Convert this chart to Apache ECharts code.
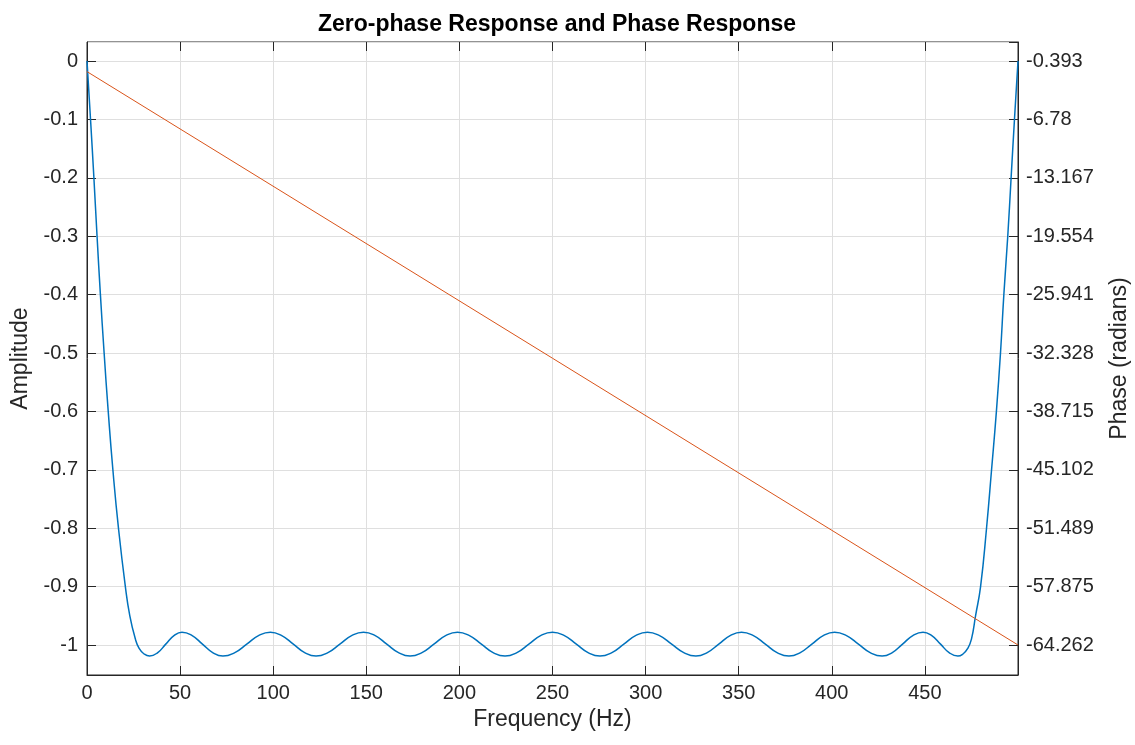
<!DOCTYPE html>
<html>
<head>
<meta charset="UTF-8">
<title>Zero-phase Response and Phase Response</title>
<script src="https://cdn.jsdelivr.net/npm/echarts@6/dist/echarts.min.js"></script>
<style>
html,body{margin:0;padding:0;background:#fff;}
#chart{width:1135px;height:745px;}
</style>
</head>
<body>
<div id="chart"></div>
<script type="text/javascript">
// amplitude (zero-phase response)
var ampFreq = [0, 1.9, 3.7, 5.4, 7.2, 9.2, 11.4, 13.9, 16.9, 20.6, 23.0, 26.0, 28.0, 30.5, 33.6,
  38, 42.3, 46.7, 51, 56.5, 62, 67.5, 73, 79.4, 85.8, 92.1, 98.5, 104.6, 110.8, 116.9, 123,
  129.4, 135.8, 142.1, 148.5, 154.8, 161, 167.3, 173.5, 179.9, 186.3, 192.6, 199,
  205.4, 211.8, 218.1, 224.5, 230.9, 237.3, 243.6, 250, 256.4, 262.8, 269.1, 275.5,
  281.9, 288.3, 294.6, 301, 307.5, 314, 320.5, 327, 333.1, 339.3, 345.4, 351.5,
  357.9, 364.3, 370.6, 377, 383.1, 389.3, 395.4, 401.5, 407.9, 414.3, 420.6, 427,
  432.5, 438, 443.5, 449, 453.7, 458.4, 463, 467.7,
  470.6, 473.0, 475.0, 477.2, 479.9, 483.1, 485.8, 488.4, 490.6, 492.4, 494.5, 496.3, 498.1, 500];
var ampValues = [0, -0.1, -0.2, -0.3, -0.4, -0.5, -0.6, -0.7, -0.8, -0.9, -0.95, -0.99, -1.006, -1.015, -1.019,
  -1.013, -0.9985, -0.984, -0.978, -0.984, -0.9985, -1.013, -1.019, -1.013, -0.9985, -0.984, -0.978, -0.984, -0.9985, -1.013, -1.019,
  -1.013, -0.9985, -0.984, -0.978, -0.984, -0.9985, -1.013, -1.019, -1.013, -0.9985, -0.984, -0.978,
  -0.984, -0.9985, -1.013, -1.019, -1.013, -0.9985, -0.984, -0.978, -0.984, -0.9985, -1.013, -1.019,
  -1.013, -0.9985, -0.984, -0.978, -0.984, -0.9985, -1.013, -1.019, -1.013, -0.9985, -0.984, -0.978,
  -0.984, -0.9985, -1.013, -1.019, -1.013, -0.9985, -0.984, -0.978, -0.984, -0.9985, -1.013, -1.019,
  -1.013, -0.9985, -0.984, -0.978, -0.984, -0.9985, -1.013, -1.019,
  -1.015, -1.006, -0.99, -0.95, -0.9, -0.8, -0.7, -0.6, -0.5, -0.4, -0.3, -0.2, -0.1, 0];

// phase response (radians)
var phaseFreq = [0, 250, 500];
var phaseValues = [-1.55, -32.9, -64.262];

// right axis tick labels
var phaseTicks = [-0.393, -6.78, -13.167, -19.554, -25.941, -32.328, -38.715, -45.102, -51.489, -57.875, -64.262];

var ampData = [];
for (var i = 0; i < ampFreq.length; i++) ampData.push([ampFreq[i], ampValues[i]]);
var phaseData = [];
for (var j = 0; j < phaseFreq.length; j++) phaseData.push([phaseFreq[j], phaseValues[j]]);

var fontName = 'Liberation Sans, Arial, sans-serif';
var ink = '#262626';

var mychart = echarts.init(document.getElementById('chart'));
var option = {
  animation: false,
  title: {
    text: 'Zero-phase Response and Phase Response',
    left: 552, top: 8, textAlign: 'center',
    textStyle: {fontFamily: fontName, fontSize: 23, fontWeight: 'bold', color: '#000'}
  },
  grid: {left: 87, right: 117, top: 42, bottom: 70, show: true, borderColor: ink, borderWidth: 1,
    outerBoundsMode: 'none', containLabel: false},
  xAxis: [{
    type: 'value', min: 0, max: 500, interval: 50,
    name: 'Frequency (Hz)', nameLocation: 'middle', nameGap: 32,
    nameTextStyle: {fontFamily: fontName, fontSize: 23, color: ink},
    axisLine: {onZero: false, lineStyle: {color: ink}},
    axisTick: {show: true, inside: true, length: 9, lineStyle: {color: ink}},
    axisLabel: {fontFamily: fontName, fontSize: 20, color: ink, margin: 8, showMaxLabel: false},
    splitLine: {lineStyle: {color: '#dfdfdf'}}
  }, {
    type: 'value', min: 0, max: 500, interval: 50, position: 'top',
    axisLine: {show: false, onZero: false},
    axisTick: {show: true, inside: true, length: 9, lineStyle: {color: ink}},
    axisLabel: {show: false},
    splitLine: {show: false}
  }],
  yAxis: [{
    type: 'value', min: -1.0514, max: 0.0326, splitNumber: 10,
    name: 'Amplitude', nameLocation: 'middle', nameGap: 50,
    nameTextStyle: {fontFamily: fontName, fontSize: 23, color: ink},
    axisLine: {show: true, onZero: false, lineStyle: {color: ink}},
    axisTick: {show: true, inside: true, length: 9, lineStyle: {color: ink}},
    axisLabel: {fontFamily: fontName, fontSize: 20, color: ink, margin: 9,
      showMinLabel: false, showMaxLabel: false},
    splitLine: {lineStyle: {color: '#dfdfdf'}}
  }, {
    type: 'value', position: 'right', min: -67.544, max: 1.689,
    name: 'Phase (radians)', nameLocation: 'middle', nameGap: 90, nameRotate: 90,
    nameTextStyle: {fontFamily: fontName, fontSize: 23, color: ink},
    axisLine: {show: true, onZero: false, lineStyle: {color: ink}},
    axisTick: {show: false},
    axisLabel: {fontFamily: fontName, fontSize: 20, color: ink, margin: 8, customValues: phaseTicks,
      formatter: function (v) { return String(v); }},
    splitLine: {show: false}
  }, {
    // tick marks on the right edge, same positions as the phase labels
    type: 'value', position: 'right', offset: 0, min: -1.0514, max: 0.0326, splitNumber: 10,
    axisLine: {show: false, onZero: false},
    axisTick: {show: true, inside: true, length: 9, lineStyle: {color: ink}},
    axisLabel: {show: false},
    splitLine: {show: false}
  }],
  series: [{
    name: 'Amplitude', type: 'line', xAxisIndex: 0, yAxisIndex: 0,
    data: ampData, smooth: 0.5, showSymbol: false,
    lineStyle: {color: '#0072BD', width: 1.5}
  }, {
    name: 'Phase', type: 'line', xAxisIndex: 0, yAxisIndex: 1,
    data: phaseData, showSymbol: false,
    lineStyle: {color: '#D95319', width: 1}
  }]
};
mychart.setOption(option);
</script>
</body>
</html>
